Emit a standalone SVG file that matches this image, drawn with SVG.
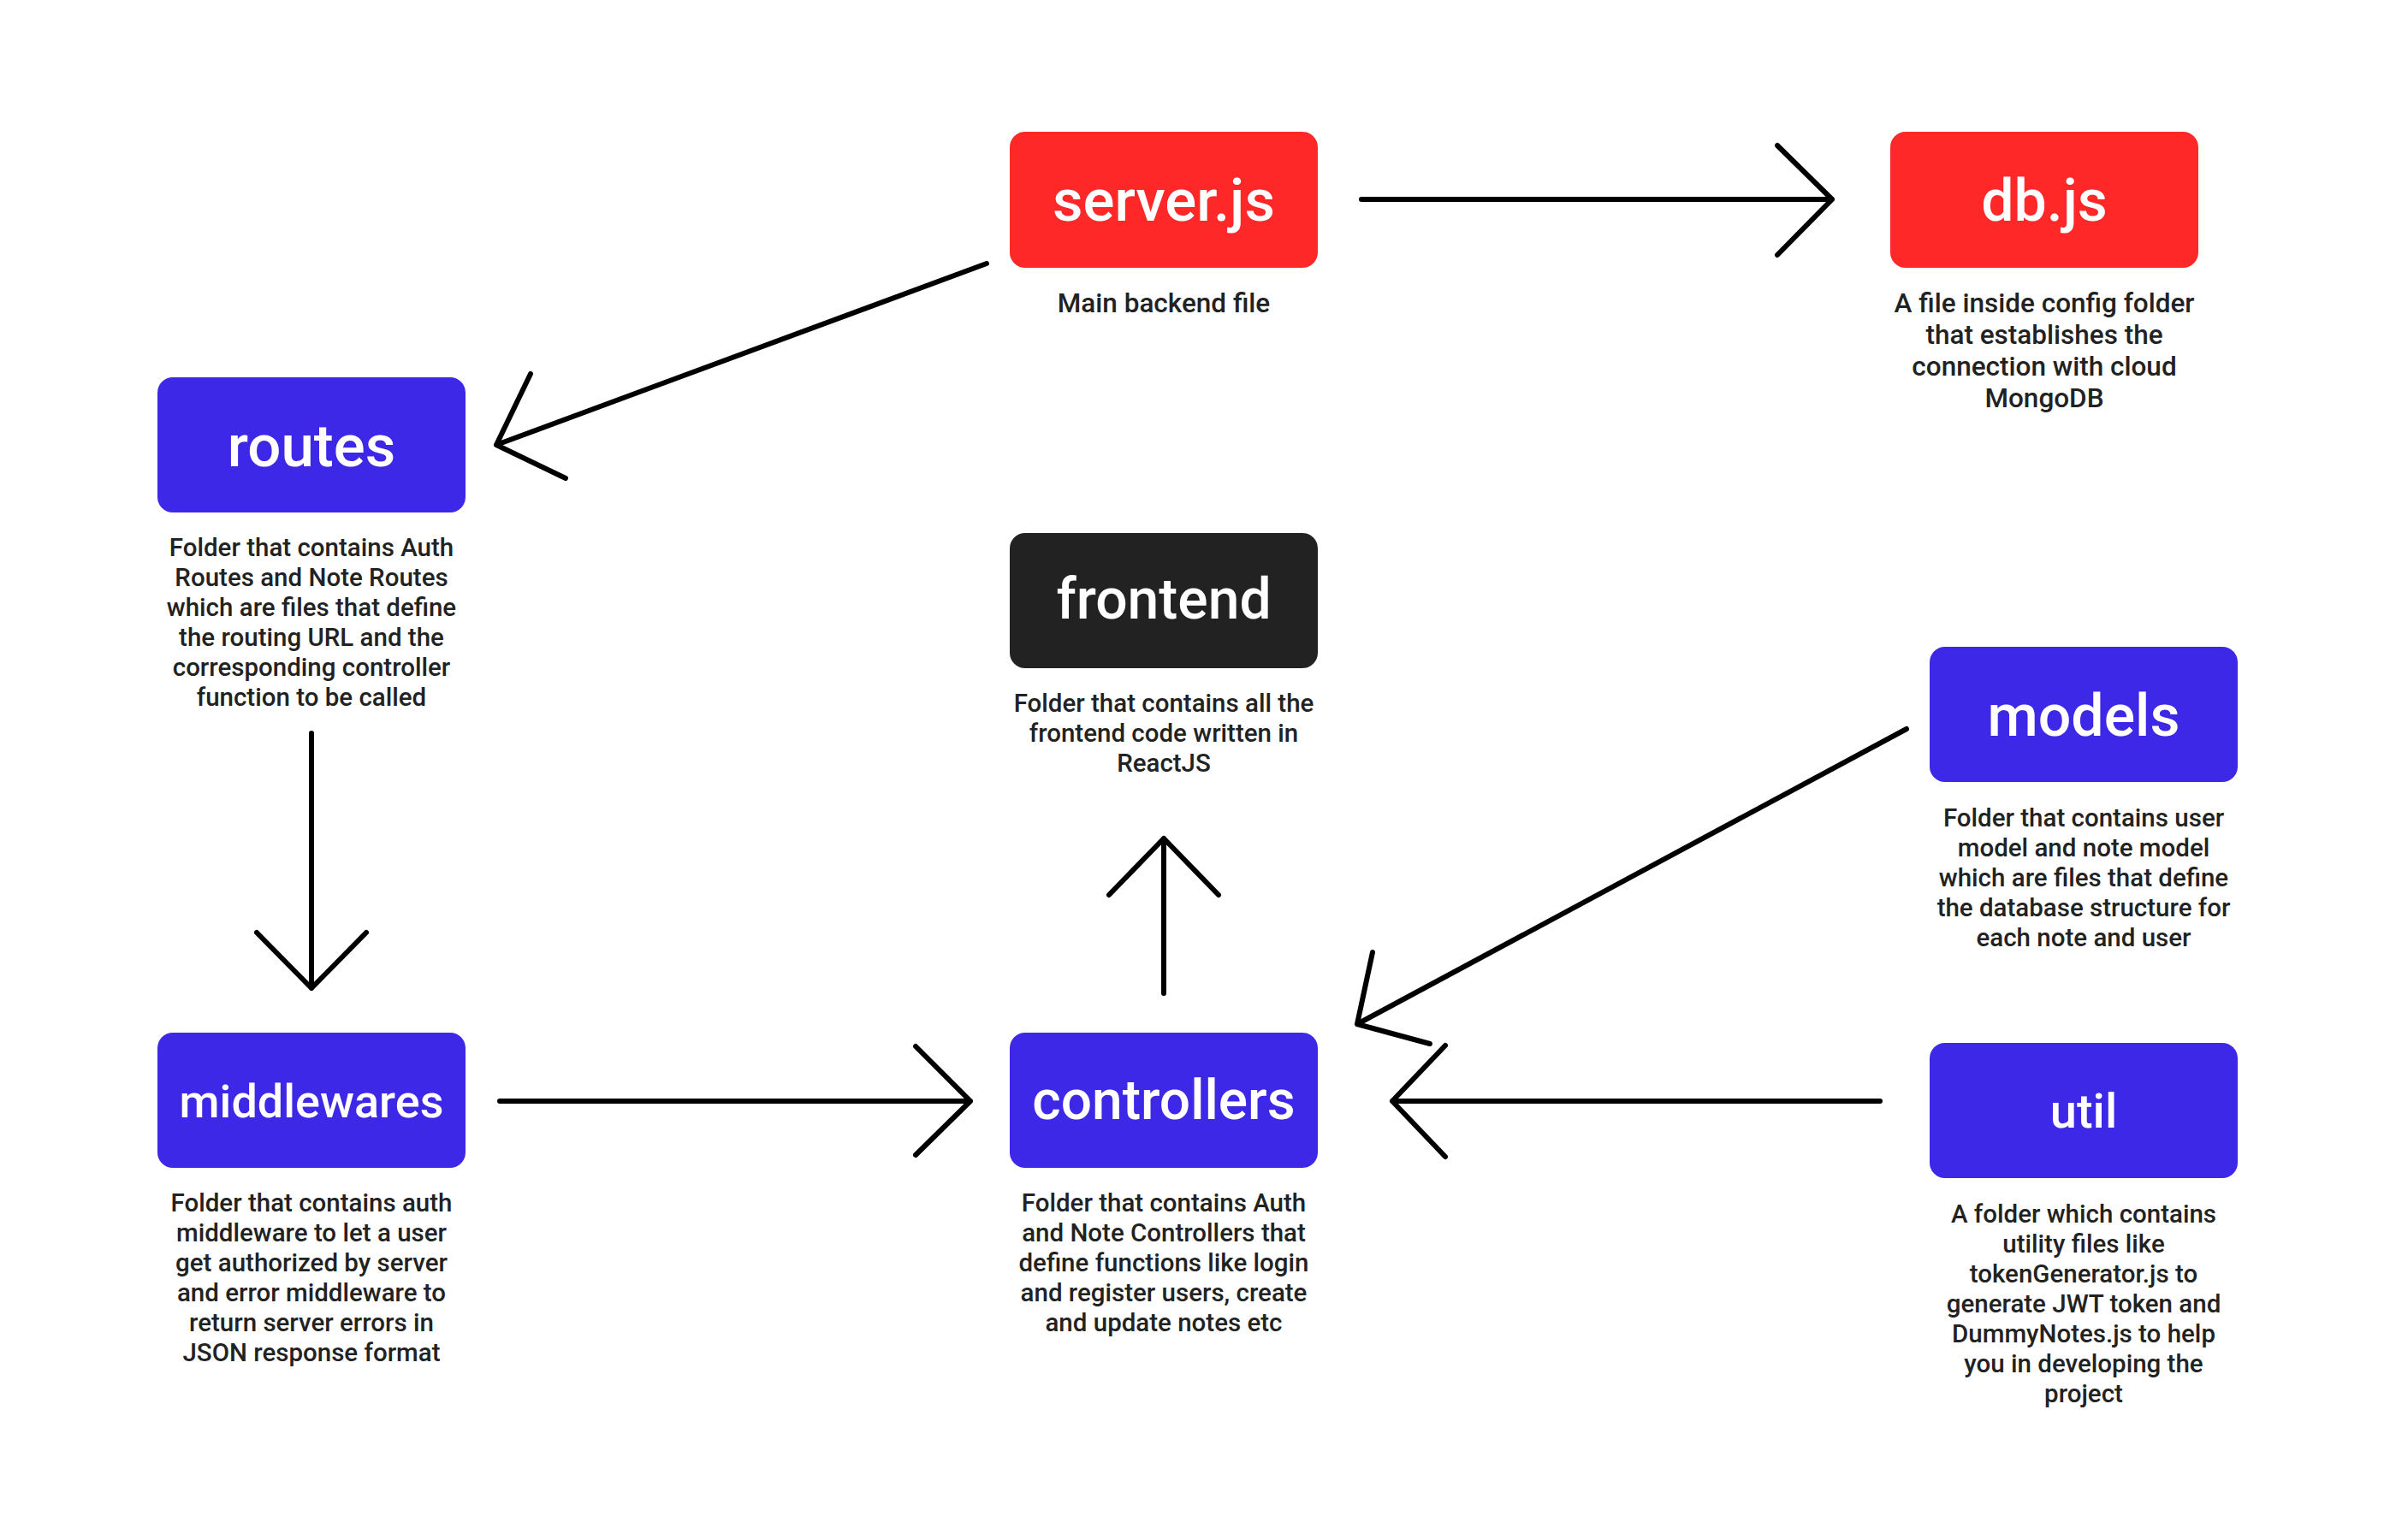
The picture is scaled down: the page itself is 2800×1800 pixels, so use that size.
<svg xmlns="http://www.w3.org/2000/svg" width="2800" height="1800" viewBox="0 0 2800 1800">
<style>
.box-red{fill:#FF2828}
.box-blue{fill:#3C28E6}
.box-dark{fill:#222222}
.title{font-family:Roboto,"Liberation Sans",sans-serif;font-weight:500;fill:#FFFFFF;text-anchor:middle}
.desc{font-family:Roboto,"Liberation Sans",sans-serif;font-weight:500;font-size:29.5px;fill:#222222;text-anchor:middle}
.desc-lg{font-size:31.5px}
.conn{fill:none;stroke:#000000;stroke-width:6;stroke-linecap:round;stroke-linejoin:round}
</style>
<rect width="2800" height="1800" fill="#FFFFFF"/>
<g id="connectors">
<path class="conn" d="M1591,233 L2141,233 M2077,170 L2141,233 L2077,298"/>
<path class="conn" d="M1153,308 L580,520 M620,437 L580,520 L661,559"/>
<path class="conn" d="M364,857 L364,1155 M300,1090 L364,1155 L428,1090"/>
<path class="conn" d="M584,1287 L1134,1287 M1070,1223 L1134,1287 L1070,1350"/>
<path class="conn" d="M1360,1161 L1360,980 M1296,1046 L1360,980 L1424,1046"/>
<path class="conn" d="M2228,852 L1586,1197 M1604,1113 L1586,1197 L1671,1220"/>
<path class="conn" d="M2197,1287 L1627,1287 M1689,1222 L1627,1287 L1689,1352"/>
</g>
<g id="server">
<rect class="box-red" x="1180" y="154" width="360" height="159" rx="18"/>
<text class="title" x="1360" y="258" font-size="69">server.js</text>
<text class="desc desc-lg" x="1360" y="365">Main backend file</text>
</g>
<g id="db">
<rect class="box-red" x="2209" y="154" width="360" height="159" rx="18"/>
<text class="title" x="2389" y="258" font-size="68">db.js</text>
<text class="desc desc-lg" x="2389" y="365">A file inside config folder</text>
<text class="desc desc-lg" x="2389" y="402">that establishes the</text>
<text class="desc desc-lg" x="2389" y="439">connection with cloud</text>
<text class="desc desc-lg" x="2389" y="476">MongoDB</text>
</g>
<g id="routes">
<rect class="box-blue" x="184" y="441" width="360" height="158" rx="18"/>
<text class="title" x="364" y="545" font-size="69">routes</text>
<text class="desc" x="364" y="650">Folder that contains Auth</text>
<text class="desc" x="364" y="685">Routes and Note Routes</text>
<text class="desc" x="364" y="720">which are files that define</text>
<text class="desc" x="364" y="755">the routing URL and the</text>
<text class="desc" x="364" y="790">corresponding controller</text>
<text class="desc" x="364" y="825">function to be called</text>
</g>
<g id="frontend">
<rect class="box-dark" x="1180" y="623" width="360" height="158" rx="18"/>
<text class="title" x="1360" y="723" font-size="66">frontend</text>
<text class="desc" x="1360" y="832">Folder that contains all the</text>
<text class="desc" x="1360" y="867">frontend code written in</text>
<text class="desc" x="1360" y="902">ReactJS</text>
</g>
<g id="models">
<rect class="box-blue" x="2255" y="756" width="360" height="158" rx="18"/>
<text class="title" x="2435" y="860" font-size="68">models</text>
<text class="desc" x="2435" y="966">Folder that contains user</text>
<text class="desc" x="2435" y="1001">model and note model</text>
<text class="desc" x="2435" y="1036">which are files that define</text>
<text class="desc" x="2435" y="1071">the database structure for</text>
<text class="desc" x="2435" y="1106">each note and user</text>
</g>
<g id="middlewares">
<rect class="box-blue" x="184" y="1207" width="360" height="158" rx="18"/>
<text class="title" x="364" y="1306" font-size="54">middlewares</text>
<text class="desc" x="364" y="1416">Folder that contains auth</text>
<text class="desc" x="364" y="1451">middleware to let a user</text>
<text class="desc" x="364" y="1486">get authorized by server</text>
<text class="desc" x="364" y="1521">and error middleware to</text>
<text class="desc" x="364" y="1556">return server errors in</text>
<text class="desc" x="364" y="1591">JSON response format</text>
</g>
<g id="controllers">
<rect class="box-blue" x="1180" y="1207" width="360" height="158" rx="18"/>
<text class="title" x="1360" y="1308" font-size="64">controllers</text>
<text class="desc" x="1360" y="1416">Folder that contains Auth</text>
<text class="desc" x="1360" y="1451">and Note Controllers that</text>
<text class="desc" x="1360" y="1486">define functions like login</text>
<text class="desc" x="1360" y="1521">and register users, create</text>
<text class="desc" x="1360" y="1556">and update notes etc</text>
</g>
<g id="util">
<rect class="box-blue" x="2255" y="1219" width="360" height="158" rx="18"/>
<text class="title" x="2435" y="1318" font-size="56">util</text>
<text class="desc" x="2435" y="1429">A folder which contains</text>
<text class="desc" x="2435" y="1464">utility files like</text>
<text class="desc" x="2435" y="1499">tokenGenerator.js to</text>
<text class="desc" x="2435" y="1534">generate JWT token and</text>
<text class="desc" x="2435" y="1569">DummyNotes.js to help</text>
<text class="desc" x="2435" y="1604">you in developing the</text>
<text class="desc" x="2435" y="1639">project</text>
</g>
</svg>
